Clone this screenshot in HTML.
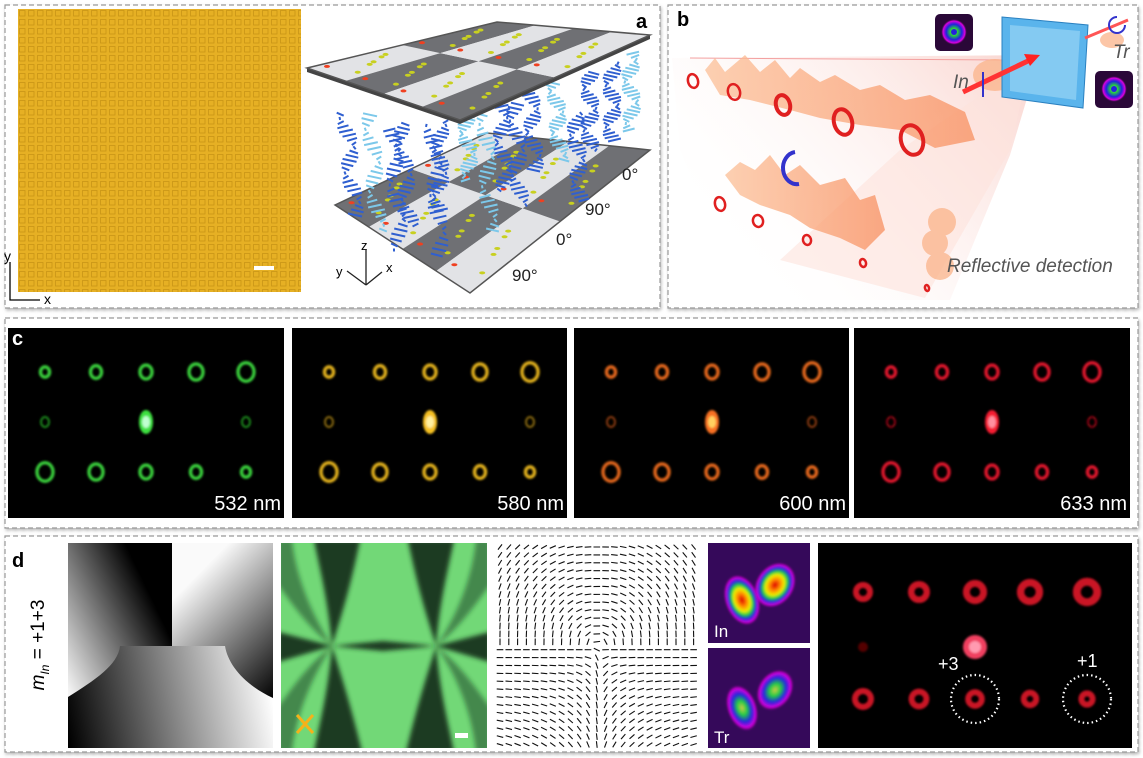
<!DOCTYPE html>
<html><head><meta charset="utf-8"><style>
html,body{margin:0;padding:0;background:#fff;}
svg{display:block;font-family:"Liberation Sans",sans-serif;}
</style></head><body>
<svg id="s" width="1143" height="758" viewBox="0 0 1143 758" xmlns="http://www.w3.org/2000/svg">
<defs>
<pattern id="yp" width="9" height="9" patternUnits="userSpaceOnUse">
<rect width="9" height="9" fill="#e6b024"/>
<rect x="1.5" y="1.5" width="5.5" height="5.5" fill="none" stroke="#c99516" stroke-width="0.8"/>
</pattern>
<linearGradient id="gTL" gradientUnits="userSpaceOnUse" x1="68" y1="690" x2="172" y2="640"><stop offset="0" stop-color="#f5f5f5"/><stop offset="1" stop-color="#000"/></linearGradient>
<linearGradient id="gTR" gradientUnits="userSpaceOnUse" x1="172" y1="600" x2="273" y2="700"><stop offset="0" stop-color="#fafafa"/><stop offset="1" stop-color="#000"/></linearGradient>
<linearGradient id="gB" gradientUnits="userSpaceOnUse" x1="68" y1="740" x2="273" y2="700"><stop offset="0" stop-color="#000"/><stop offset="1" stop-color="#fff"/></linearGradient>
<radialGradient id="rb"><stop offset="0" stop-color="#d00"/><stop offset="0.25" stop-color="#f80"/><stop offset="0.45" stop-color="#ee0"/><stop offset="0.6" stop-color="#2c4"/><stop offset="0.75" stop-color="#22d"/><stop offset="0.9" stop-color="#d0d"/><stop offset="1" stop-color="#3a0a5a" stop-opacity="0"/></radialGradient>
<radialGradient id="rb2"><stop offset="0" stop-color="#cc4"/><stop offset="0.3" stop-color="#2c4"/><stop offset="0.6" stop-color="#22d"/><stop offset="0.85" stop-color="#d0d"/><stop offset="1" stop-color="#3a0a5a" stop-opacity="0"/></radialGradient>
<linearGradient id="orb" x1="0" x2="1"><stop offset="0" stop-color="#fcc098"/><stop offset="1" stop-color="#f89060"/></linearGradient>
<linearGradient id="fan" x1="1" y1="0" x2="0" y2="0.6"><stop offset="0" stop-color="#f8c8c0" stop-opacity="0.8"/><stop offset="1" stop-color="#fff" stop-opacity="0"/></linearGradient>
<filter id="sh" x="-2%" y="-2%" width="104%" height="106%"><feDropShadow dx="1" dy="2" stdDeviation="1.5" flood-color="#888" flood-opacity="0.6"/></filter>
<filter id="bl"><feGaussianBlur stdDeviation="1"/></filter>
<filter id="bl2"><feGaussianBlur stdDeviation="2.5"/></filter>
<clipPath id="gc"><rect x="281" y="543" width="206" height="205"/></clipPath>
</defs>
<g fill="#fff" stroke="#999" stroke-width="1.2" stroke-dasharray="5,3" filter="url(#sh)">
<rect x="5" y="5" width="655" height="303"/>
<rect x="668" y="5" width="470" height="303"/>
<rect x="5" y="318" width="1133" height="210"/>
<rect x="5" y="536" width="1133" height="216"/>
</g>
<!-- panel a -->
<rect x="18" y="9" width="283" height="283" fill="url(#yp)"/>
<rect x="254" y="266" width="20" height="4" fill="#fff"/>
<g stroke="#000" stroke-width="1.3" fill="none"><path d="M10 262 V300 H40"/></g>
<text x="4" y="261" font-size="14">y</text><text x="44" y="304" font-size="14">x</text>
<g id="plates"></g>
<g font-size="17" fill="#222"><text x="622" y="180">0°</text><text x="585" y="215">90°</text><text x="556" y="245">0°</text><text x="512" y="281">90°</text></g>
<g stroke="#222" stroke-width="1.3" fill="none"><path d="M366 285 V250 M366 285 L347 271 M366 285 L382 272"/></g>
<text x="361" y="250" font-size="13">z</text><text x="336" y="276" font-size="13">y</text><text x="386" y="272" font-size="13">x</text>
<text x="636" y="28" font-size="20" font-weight="bold">a</text>
<!-- panel b -->
<polygon points="672,58 1040,55 1010,155 950,300 740,300 680,150" fill="url(#fan)"/>
<polygon points="1030,62 900,150 780,260 925,298 1010,150" fill="#fde2dc" opacity="0.6"/>
<line x1="690" y1="58" x2="1005" y2="60" stroke="#f3a0a0" stroke-width="1"/>
<g opacity="0.75">
<path d="M705 70 L715 58 L725 72 L745 55 L760 72 L775 60 L790 78 L800 68 L820 82 L835 75 L860 90 L880 85 L905 100 L930 95 L965 112 L975 140 L935 148 L900 130 L860 125 L820 118 L790 110 L750 100 L720 95 Z" fill="url(#orb)"/>
<path d="M725 175 L740 162 L755 170 L770 155 L785 175 L800 165 L820 185 L845 178 L860 200 L875 195 L885 230 L865 250 L840 238 L810 228 L790 215 L760 205 L740 195 Z" fill="url(#orb)"/>
<circle cx="942" cy="222" r="14" fill="#fbb48a"/><circle cx="935" cy="243" r="13" fill="#fbb48a"/><circle cx="940" cy="266" r="14" fill="#fbb48a"/>
<ellipse cx="1112" cy="40" rx="12" ry="8" fill="#fbb48a"/><ellipse cx="995" cy="75" rx="22" ry="16" fill="#fbb48a"/>
</g>
<g id="bblobs"></g>
<polygon points="1002,17 1088,25 1083,108 1002,97" fill="#5ab4ec" stroke="#2a80c0"/>
<polygon points="1010,25 1080,31 1076,100 1010,91" fill="#8ed0f4" opacity="0.8"/>
<line x1="963" y1="92" x2="1030" y2="60" stroke="#f33" stroke-width="5"/>
<polygon points="1040,55 1024,54 1030,66" fill="#f22"/>
<line x1="1085" y1="38" x2="1128" y2="20" stroke="#f55" stroke-width="3"/>
<path d="M983 72 V97" stroke="#33c" stroke-width="2"/>
<rect x="935" y="14" width="38" height="37" rx="5" fill="#2a0838"/><circle cx="954" cy="32" r="13" fill="url(#rb2)"/><circle cx="954" cy="32" r="3" fill="#22d"/>
<rect x="1095" y="71" width="38" height="37" rx="5" fill="#2a0838"/><circle cx="1114" cy="89" r="13" fill="url(#rb2)"/><circle cx="1114" cy="89" r="3" fill="#22d"/>
<path d="M1117 17 a8 8 0 1 0 8 8" stroke="#33c" stroke-width="2" fill="none"/>
<path d="M795 152 a13 15 0 1 0 4 32" stroke="#33c" stroke-width="4" fill="none"/>
<g font-style="italic" fill="#555"><text x="953" y="88" font-size="19">In</text><text x="1113" y="58" font-size="19">Tr</text><text x="947" y="272" font-size="19">Reflective detection</text></g>
<text x="677" y="26" font-size="20" font-weight="bold">b</text>
<!-- panel c -->
<g id="cpan"></g>
<text x="12" y="345" font-size="20" font-weight="bold" fill="#fff">c</text>
<g fill="#fff" font-size="20" text-anchor="end"><text x="281" y="510">532 nm</text><text x="564" y="510">580 nm</text><text x="846" y="510">600 nm</text><text x="1127" y="510">633 nm</text></g>
<!-- panel d -->
<text x="12" y="567" font-size="20" font-weight="bold">d</text>
<text transform="translate(44,645) rotate(-90)" font-size="19" text-anchor="middle"><tspan font-style="italic">m</tspan><tspan font-style="italic" font-size="12" dy="5">In</tspan><tspan dy="-5"> = +1+3</tspan></text>
<rect x="68" y="543" width="105" height="205" fill="url(#gTL)"/>
<rect x="172" y="543" width="101" height="205" fill="url(#gTR)"/>
<path d="M68 697 C95 680 118 665 120 646 L225 646 C228 665 245 685 273 698 V748 H68Z" fill="url(#gB)"/>
<g clip-path="url(#gc)">
<rect x="281" y="543" width="206" height="205" fill="#72d877"/>
<g fill="#1c3a20" filter="url(#bl2)">
<path d="M332 646 C328 600 320 570 314 540 L360 540 C350 590 340 620 332 646 Z"/>
<path d="M436 646 C428 620 418 590 408 540 L454 540 C448 570 440 600 436 646 Z"/>
<path d="M332 646 C328 692 320 722 314 752 L362 752 C350 702 340 672 332 646 Z"/>
<path d="M436 646 C428 672 418 702 406 752 L454 752 C448 722 440 692 436 646 Z"/>
<path d="M278 632 L332 646 L278 662 Z"/><path d="M490 632 L436 646 L490 662 Z"/>
<path d="M332 646 L383 641 L436 646 L383 651 Z"/>
<path d="M278 540 L292 540 C296 580 315 620 332 646 C305 625 290 600 278 585 Z" opacity="0.5"/>
<path d="M490 540 L476 540 C472 580 455 620 436 646 C463 625 478 600 490 585 Z" opacity="0.5"/>
<path d="M278 752 L292 752 C296 712 315 672 332 646 C305 667 290 692 278 707 Z" opacity="0.5"/>
<path d="M490 752 L476 752 C472 712 455 672 436 646 C463 667 478 692 490 707 Z" opacity="0.5"/>
</g>
</g>
<g stroke="#f5b21a" stroke-width="3"><path d="M297 715 L313 733 M313 715 L297 733"/></g>
<rect x="455" y="733" width="13" height="5" fill="#fff"/>
<g id="lf" stroke="#111" stroke-width="1.1"></g>
<rect x="708" y="543" width="102" height="100" fill="#35095a"/>
<rect x="708" y="648" width="102" height="100" fill="#35095a"/>
<g filter="url(#bl)">
<ellipse cx="742" cy="600" rx="17" ry="26" transform="rotate(-20 742 600)" fill="url(#rb)"/>
<ellipse cx="775" cy="585" rx="19" ry="24" transform="rotate(35 775 585)" fill="url(#rb)"/>
<ellipse cx="742" cy="708" rx="15" ry="24" transform="rotate(-20 742 708)" fill="url(#rb2)"/>
<ellipse cx="775" cy="690" rx="17" ry="22" transform="rotate(35 775 690)" fill="url(#rb2)"/>
</g>
<g fill="#fff" font-size="17"><text x="714" y="637">In</text><text x="714" y="743">Tr</text></g>
<rect x="818" y="543" width="314" height="205" fill="#000"/>
<g id="rsp" filter="url(#bl)"></g>
<g fill="none" stroke="#fff" stroke-width="2.2" stroke-dasharray="1.5,3"><circle cx="975" cy="699" r="24"/><circle cx="1087" cy="699" r="24"/></g>
<g fill="#fff" font-size="18"><text x="938" y="670">+3</text><text x="1077" y="667">+1</text></g>
</svg>
<script>
var S="http://www.w3.org/2000/svg";
function el(p,t,a){var e=document.createElementNS(S,t);for(var k in a)e.setAttribute(k,a[k]);p.appendChild(e);return e;}
function lerp(a,b,t){return [a[0]+(b[0]-a[0])*t,a[1]+(b[1]-a[1])*t];}
function bil(P,u,v){return lerp(lerp(P[0],P[1],u),lerp(P[3],P[2],u),v);}
var pl=document.getElementById('plates');
function plate(P,nu,nv,off){
 for(var i=0;i<nu;i++)for(var j=0;j<nv;j++){
  var a=bil(P,i/nu,j/nv),b=bil(P,(i+1)/nu,j/nv),c=bil(P,(i+1)/nu,(j+1)/nv),d=bil(P,i/nu,(j+1)/nv);
  el(pl,'polygon',{points:[a,b,c,d].map(function(q){return q.join(',')}).join(' '),fill:((i+j+off)%2)?'#e2e3e6':'#6f7074'});
  for(var k=0;k<6;k++){var q=bil(P,(i+0.15+0.7*((k*37)%10)/10)/nu,(j+0.15+0.7*((k*53)%10)/10)/nv);
   el(pl,'ellipse',{cx:q[0],cy:q[1],rx:3,ry:1.5,fill:k==0?'#f04020':'#c8d020'});}
 }
 el(pl,'polygon',{points:P.map(function(q){return q.join(',')}).join(' '),fill:'none',stroke:'#555','stroke-width':1.5});
}
var B=[[335,205],[487,133],[650,150],[470,293]];
plate(B,2,4,0);
var hx=[[355,215,345,110],[378,230,370,110],[410,225,400,120],[440,210,440,118],[470,180,465,100],[505,190,500,95],[535,170,530,80],[560,160,555,80],[590,150,590,70],[612,140,612,60],[632,130,630,50],[400,250,392,125],[440,255,432,120],[490,230,485,110],[520,205,515,100],[580,200,575,110]];
hx.forEach(function(h,n){var col=(n%3==1)?'#7cc8ea':'#2f5fd0';
 for(var t=0;t<=1;t+=0.04){var x=h[0]+(h[2]-h[0])*t+6*Math.sin(t*12+n),y=h[1]+(h[3]-h[1])*t;var w=7*Math.cos(t*12+n);
  el(pl,'line',{x1:x-w,y1:y-1.5,x2:x+w,y2:y+1.5,stroke:col,'stroke-width':2});}
});
el(pl,'polygon',{points:'307,68 460,120 460,124 307,72',fill:'#444'});
el(pl,'polygon',{points:'460,120 650,35 650,39 460,124',fill:'#444'});
plate([[307,68],[497,22],[650,35],[460,120]],2,4,1);
var bb=document.getElementById('bblobs');
[[693,81,5,7],[734,92,6,8],[783,105,7,10],[843,122,9,13],[912,140,11,15],[720,204,5,7],[758,221,5,6],[807,240,4,5],[863,263,3,4],[927,288,2,3]].forEach(function(r){
 el(bb,'ellipse',{cx:r[0],cy:r[1],rx:r[2],ry:r[3],fill:'none',stroke:'#e02020','stroke-width':r[2]>6?4:2.5,transform:'rotate(-15 '+r[0]+' '+r[1]+')'});});
var cp=document.getElementById('cpan');
var lefts=[8,292,574,854],cols=[['#3de040','#1a8a1c','#c0ffd0'],['#f5c020','#8a6a10','#fff0a0'],['#f77020','#8a3a10','#ffd060'],['#f51a30','#900818','#ff90a0']];
var rel=[37,88,138,188,238],rad1=[4.5,5.5,6,7,8],rad3=[8,7,6,5.5,4.5];
lefts.forEach(function(L,i){
 el(cp,'rect',{x:L,y:328,width:(i==0||i==3)?276:275,height:190,fill:'#000'});
 var g=el(cp,'g',{filter:'url(#bl)'});var c=cols[i];
 rel.forEach(function(r,k){
  el(g,'ellipse',{cx:L+r,cy:372,rx:rad1[k],ry:rad1[k]*1.15,fill:'none',stroke:c[0],'stroke-width':3.5,opacity:0.9});
  el(g,'ellipse',{cx:L+r,cy:472,rx:rad3[k],ry:rad3[k]*1.15,fill:'none',stroke:c[0],'stroke-width':3.5,opacity:0.9});
 });
 el(g,'ellipse',{cx:L+rel[0],cy:422,rx:4,ry:5,fill:'none',stroke:c[1],'stroke-width':2});
 el(g,'ellipse',{cx:L+rel[4],cy:422,rx:4,ry:5,fill:'none',stroke:c[1],'stroke-width':2});
 el(g,'ellipse',{cx:L+rel[2],cy:422,rx:7,ry:12,fill:c[0]});
 el(g,'ellipse',{cx:L+rel[2],cy:422,rx:4,ry:6,fill:c[2]});
});
var lf=document.getElementById('lf');
for(var i=0;i<23;i++)for(var j=0;j<26;j++){
 var x=500+i*8.8,y=547+j*7.9,dx=x-598,dy=648-y,ph=Math.atan2(dy,dx),th,ac=Math.abs(Math.cos(ph));
 if(dy>=0)th=(Math.PI/2)*Math.pow(ac,1.5)*(dx<0?1:-1);
 else th=(Math.PI/2)*(1-Math.pow(ac,0.6))*(dx<0?-1:1);
 var c=Math.cos(th)*3.3,s=Math.sin(th)*3.3;
 el(lf,'line',{x1:x-c,y1:y+s,x2:x+c,y2:y-s});
}
var rp=document.getElementById('rsp');
[863,919,975,1030,1087].forEach(function(x,k){
 el(rp,'circle',{cx:x,cy:592,r:7+k*0.8,fill:'none',stroke:'#e01428','stroke-width':6+k*0.5,opacity:0.9});
 el(rp,'circle',{cx:x,cy:699,r:8-k*0.6,fill:'none',stroke:'#e01428','stroke-width':6,opacity:0.9});
});
el(rp,'circle',{cx:975,cy:647,r:12,fill:'#f04060'});
el(rp,'circle',{cx:975,cy:647,r:6,fill:'#ff9ab0'});
el(rp,'circle',{cx:863,cy:647,r:5,fill:'#500'});
</script>
</body></html>
